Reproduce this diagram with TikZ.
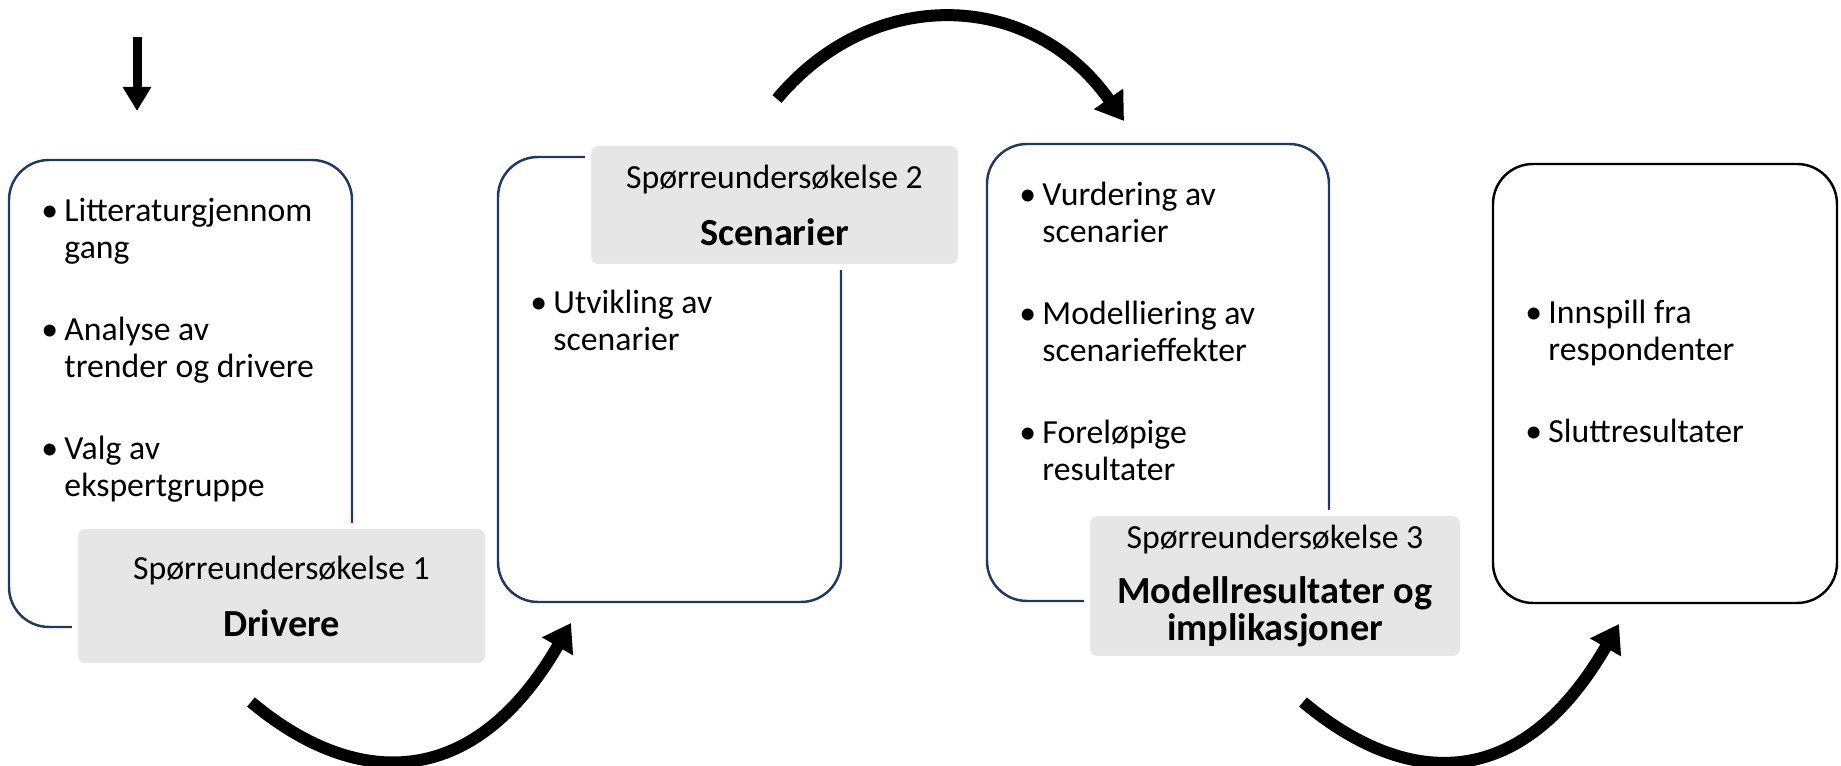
\documentclass[tikz,border=0pt]{standalone}
\usepackage{fontspec}
\setmainfont{Carlito}
\usetikzlibrary{arrows.meta,positioning}

\definecolor{navy}{RGB}{31,56,100}
\definecolor{boxgray}{RGB}{231,230,230}

\tikzset{
  phase/.style={draw=navy, line width=0.7pt, rounded corners=0.4cm, minimum width=3.43cm, inner sep=0pt},
  survey/.style={fill=boxgray, draw=white, line width=0.06cm, rounded corners=0.1cm, align=center, inner sep=0pt,
                 font=\fontsize{9.6}{10.5}\selectfont},
  items/.style={align=left, inner sep=0pt, font=\fontsize{9.6}{10.5}\selectfont},
  flow/.style={line width=0.12cm, -{Triangle[width=0.34cm,length=0.27cm]}}
}
% bullet with hanging indent
\newcommand{\bul}{\strut\makebox[0.19cm][l]{\hspace*{-0.04cm}\textbullet}}
\newcommand{\ind}{\hspace*{0.19cm}}
\newcommand{\ttl}[1]{{\fontsize{10.9}{10.5}\selectfont\bfseries #1}}

\begin{document}
\begin{tikzpicture}
  \useasboundingbox (0,0) rectangle (18.41,-7.66);

  % the four phases
  \node[phase, minimum height=4.67cm] (b1) at (1.805,-3.935) {};
  \node[phase, minimum height=4.45cm] (b2) at (6.695,-3.795) {};
  \node[phase, minimum height=4.57cm, minimum width=3.42cm] (b3) at (11.58,-3.725) {};
  \node[phase, draw=black, minimum height=4.39cm, minimum width=3.44cm] (b4) at (16.65,-3.835) {};

  \node[items, below right=0.362cm and 0.37cm of b1.north west] (t1)
    {\bul Litteraturgjennom\\ \ind gang\\[0.45cm]
     \bul Analyse av\\ \ind trender og drivere\\[0.45cm]
     \bul Valg av\\ \ind ekspertgruppe};
  \node[items, below right=1.312cm and 0.37cm of b2.north west] (t2)
    {\bul Utvikling av\\ \ind scenarier};
  \node[items, below right=0.362cm and 0.37cm of b3.north west] (t3)
    {\bul Vurdering av\\ \ind scenarier\\[0.45cm]
     \bul Modelliering av\\ \ind scenarieffekter\\[0.45cm]
     \bul Foreløpige\\ \ind resultater};
  \node[items, below right=1.342cm and 0.37cm of b4.north west] (t4)
    {\bul Innspill fra\\ \ind respondenter\\[0.45cm]
     \bul Sluttresultater};

  % surveys on top of the phases
  \node[survey, minimum width=4.13cm, minimum height=1.40cm] (g1) at (2.815,-5.96)
    {Spørreundersøkelse 1\\[0.2cm]\ttl{Drivere}};
  \node[survey, minimum width=3.73cm, minimum height=1.24cm] (g2) at (7.745,-2.05)
    {Spørreundersøkelse 2\\[0.2cm]\ttl{Scenarier}};
  \node[survey, minimum width=3.76cm, minimum height=1.46cm] (g3) at (12.75,-5.86)
    {Spørreundersøkelse 3\\[0.18cm]\ttl{Modellresultater og}\\\ttl{implikasjoner}};

  % arrows between the steps
  \coordinate (in0) at (1.37,-0.37);
  \coordinate (in1) at (1.37,-1.11);
  \coordinate (s1) at (2.51,-7.02);
  \coordinate (e1) at (5.71,-6.23);
  \coordinate (s2) at (7.77,-0.99);
  \coordinate (e2) at (11.24,-1.21);
  \coordinate (s3) at (13.03,-7.02);
  \coordinate (e3) at (16.19,-6.24);

  \draw[line width=0.09cm, -{Triangle[width=0.27cm,length=0.24cm]}] (in0) -- (in1);
  \draw[flow] (s1) .. controls +(1.0,-0.84) and +(-1.0,-1.73) .. (e1);
  \draw[flow] (s2) .. controls +(0.96,1.15) and +(-0.92,1.31) .. (e2);
  \draw[flow] (s3) .. controls +(1.0,-0.84) and +(-1.0,-1.73) .. (e3);
\end{tikzpicture}
\end{document}
